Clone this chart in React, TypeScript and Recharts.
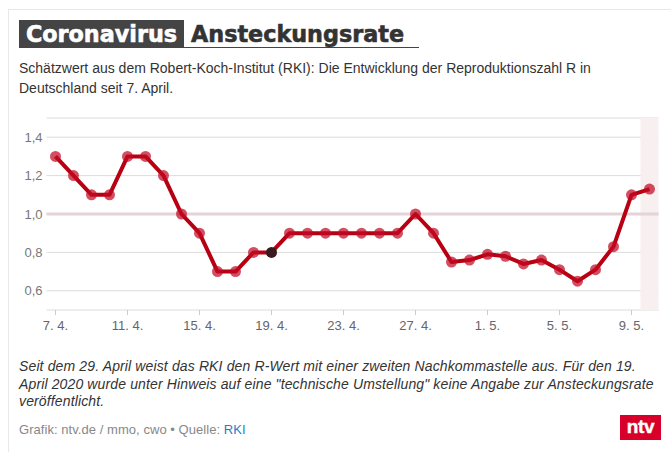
import React from "react";
import {
  ComposedChart,
  Line,
  XAxis,
  YAxis,
  CartesianGrid,
  ReferenceLine,
  ReferenceArea,
} from "recharts";

const days = [
  "7. 4.", "8. 4.", "9. 4.", "10. 4.", "11. 4.", "12. 4.", "13. 4.", "14. 4.", "15. 4.",
  "16. 4.", "17. 4.", "18. 4.", "19. 4.", "20. 4.", "21. 4.", "22. 4.", "23. 4.", "24. 4.",
  "25. 4.", "26. 4.", "27. 4.", "28. 4.", "29. 4.", "30. 4.", "1. 5.", "2. 5.", "3. 5.",
  "4. 5.", "5. 5.", "6. 5.", "7. 5.", "8. 5.", "9. 5.", "10. 5.",
];
const rValues = [
  1.3, 1.2, 1.1, 1.1, 1.3, 1.3, 1.2, 1.0, 0.9,
  0.7, 0.7, 0.8, 0.8, 0.9, 0.9, 0.9, 0.9, 0.9,
  0.9, 0.9, 1.0, 0.9, 0.75, 0.76, 0.79, 0.78, 0.74,
  0.76, 0.71, 0.65, 0.71, 0.83, 1.1, 1.13,
];
const yTicks = [0.6, 0.8, 1.0, 1.2, 1.4];
const noValueDay = "19. 4.";
const latestDay = "10. 5.";

const data = days.map((day, i) => ({ day, r: rValues[i] }));

const sans = "'Liberation Sans', Arial, sans-serif";

const RDot = (props: any) => {
  const { cx, cy, payload } = props;
  const dark = payload.day === noValueDay;
  return (
    <circle
      key={payload.day}
      cx={cx}
      cy={cy}
      r={5.5}
      fill={dark ? "#3a1a20" : "#c00a22"}
      fillOpacity={dark ? 1 : 0.72}
    />
  );
};

const App = () => {
  return (
    <div
      style={{
        position: "fixed",
        left: 0,
        top: 0,
        width: 671,
        height: 452,
        background: "#fff",
        overflow: "hidden",
        fontFamily: sans,
      }}
    >
      {/* outer box edge */}
      <div
        style={{
          position: "absolute",
          left: 8,
          top: 9,
          width: 670,
          height: 450,
          borderLeft: "1px solid #e8e8e8",
          borderTop: "1px solid #e8e8e8",
        }}
      />

      {/* title */}
      <div
        style={{
          position: "absolute",
          left: 19,
          top: 47,
          width: 400,
          height: 1,
          background: "#444",
        }}
      />
      <div
        style={{
          position: "absolute",
          left: 19,
          top: 20,
          width: 165,
          height: 28,
          background: "#444",
          color: "#fff",
          fontFamily: "'DejaVu Sans', sans-serif",
          fontWeight: 700,
          fontSize: 22.3,
          lineHeight: "29px",
          textAlign: "center",
          whiteSpace: "nowrap",
          WebkitTextStroke: "0.6px #fff",
        }}
      >
        Coronavirus
      </div>
      <div
        style={{
          position: "absolute",
          left: 191,
          top: 20,
          color: "#333",
          fontFamily: "'DejaVu Sans', sans-serif",
          fontWeight: 700,
          fontSize: 22.3,
          lineHeight: "29px",
          whiteSpace: "nowrap",
          WebkitTextStroke: "0.6px #333",
        }}
      >
        Ansteckungsrate
      </div>

      {/* subtitle */}
      <div
        style={{
          position: "absolute",
          left: 19,
          top: 58,
          width: 640,
          fontSize: 14,
          lineHeight: "20px",
          color: "#333",
        }}
      >
        Schätzwert aus dem Robert-Koch-Institut (RKI): Die Entwicklung der Reproduktionszahl R in
        <br />
        Deutschland seit 7. April.
      </div>

      <div style={{ position: "absolute", left: 0, top: 0 }}>
        <ComposedChart
          width={671}
          height={345}
          data={data}
          margin={{ top: 118, right: 12.5, bottom: 0, left: 0 }}
        >
          <ReferenceArea
            x1={latestDay}
            x2={latestDay}
            fill="#f7eff0"
            fillOpacity={1}
            stroke="none"
          />
          <CartesianGrid horizontal vertical={false} stroke="#dcdcdc" strokeWidth={1} />
          <ReferenceLine y={1} stroke="#e4d3d7" strokeWidth={3} />
          <XAxis
            dataKey="day"
            scale="band"
            interval={3}
            axisLine={false}
            tickLine={{ stroke: "#cccccc" }}
            tickSize={5}
            tickMargin={6}
            height={35}
            tick={{ fontSize: 13, fill: "#666", fontFamily: sans }}
          />
          <YAxis
            type="number"
            domain={[0.5, 1.5]}
            ticks={yTicks}
            width={46.5}
            axisLine={false}
            tickLine={false}
            tickMargin={4}
            tickSize={0}
            tickFormatter={(v: number) => v.toFixed(1).replace(".", ",")}
            tick={{ fontSize: 13, fill: "#777", fontFamily: sans }}
          />
          <Line
            dataKey="r"
            stroke="#b80012"
            strokeWidth={4}
            strokeLinejoin="round"
            dot={RDot}
            activeDot={false}
            isAnimationActive={false}
          />
        </ComposedChart>
      </div>

      {/* note */}
      <div
        style={{
          position: "absolute",
          left: 19,
          top: 358,
          width: 645,
          fontSize: 14,
          fontStyle: "italic",
          lineHeight: "17.5px",
          letterSpacing: 0.13,
          color: "#333",
        }}
      >
        Seit dem 29. April weist das RKI den R-Wert mit einer zweiten Nachkommastelle aus. Für den 19.
        <br />
        April 2020 wurde unter Hinweis auf eine "technische Umstellung" keine Angabe zur Ansteckungsrate
        <br />
        veröffentlicht.
      </div>

      {/* source */}
      <div
        style={{
          position: "absolute",
          left: 19,
          top: 421,
          fontSize: 13,
          lineHeight: "17px",
          letterSpacing: 0.05,
          color: "#888",
          whiteSpace: "nowrap",
        }}
      >
        Grafik: ntv.de / mmo, cwo • Quelle: <span style={{ color: "#1f7fc4" }}>RKI</span>
      </div>

      {/* logo */}
      <div
        style={{
          position: "absolute",
          left: 620,
          top: 415,
          width: 41,
          height: 25,
          background: "#d8002a",
          color: "#fff",
          fontWeight: 700,
          fontSize: 19,
          lineHeight: "23px",
          textAlign: "center",
          letterSpacing: -0.3,
          WebkitTextStroke: "0.4px #fff",
        }}
      >
        ntv
      </div>
    </div>
  );
};

export default App;
